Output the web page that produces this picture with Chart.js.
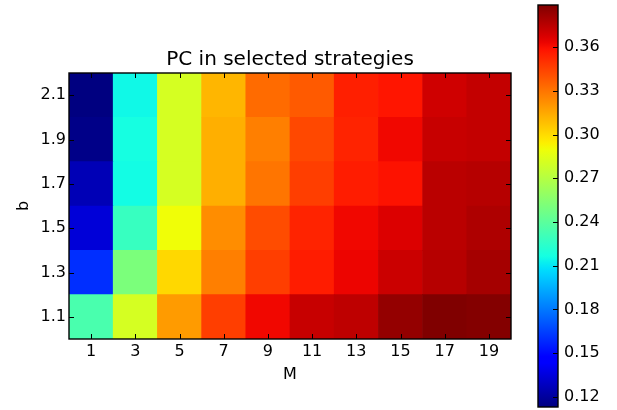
<!DOCTYPE html>
<html>
<head>
<meta charset="utf-8">
<script src="https://cdn.jsdelivr.net/npm/chart.js@4/dist/chart.umd.min.js"></script>
<style>
  html, body { margin: 0; padding: 0; background: #fff; }
  #wrap { position: relative; width: 617px; height: 410px; }
  #main { position: absolute; left: 0; top: 0; }
  #cbar { position: absolute; left: 530px; top: 0; }
</style>
</head>
<body>
<div id="wrap">
  <canvas id="main" width="617" height="410"></canvas>
  <canvas id="cbar" width="87" height="410"></canvas>
</div>
<script>
// ---- data ----
const mLabels = ['1', '3', '5', '7', '9', '11', '13', '15', '17', '19'];
const bValues = [1.1, 1.3, 1.5, 1.7, 1.9, 2.1];
const pc_b11 = [0.234, 0.281, 0.319, 0.346, 0.362, 0.372, 0.374, 0.384, 0.389, 0.388];
const pc_b13 = [0.160, 0.251, 0.301, 0.327, 0.346, 0.356, 0.363, 0.371, 0.376, 0.380];
const pc_b15 = [0.134, 0.228, 0.290, 0.323, 0.342, 0.354, 0.362, 0.367, 0.375, 0.378];
const pc_b17 = [0.126, 0.216, 0.281, 0.313, 0.330, 0.346, 0.356, 0.359, 0.375, 0.376];
const pc_b19 = [0.115, 0.217, 0.281, 0.313, 0.327, 0.343, 0.354, 0.362, 0.372, 0.373];
const pc_b21 = [0.113, 0.215, 0.281, 0.311, 0.333, 0.338, 0.355, 0.358, 0.370, 0.373];
const colorbarTicks = [0.12, 0.15, 0.18, 0.21, 0.24, 0.27, 0.30, 0.33, 0.36];
const colorMin = 0.113;
const colorMax = 0.389;
const chartTitle = 'PC in selected strategies';
const xTitle = 'M';
const yTitle = 'b';

// ---- jet colormap (matplotlib segment data) ----
const jetR = [[0, 0], [0.35, 0], [0.66, 1], [0.89, 1], [1, 0.5]];
const jetG = [[0, 0], [0.125, 0], [0.375, 1], [0.64, 1], [0.91, 0], [1, 0]];
const jetB = [[0, 0.5], [0.11, 1], [0.34, 1], [0.65, 0], [1, 0]];
function seg(s, t) {
  for (let i = 1; i < s.length; i++) {
    if (t <= s[i][0]) {
      const [x0, y0] = s[i - 1], [x1, y1] = s[i];
      return y0 + (y1 - y0) * (t - x0) / (x1 - x0);
    }
  }
  return s[s.length - 1][1];
}
function jetT(t) {
  t = Math.max(0, Math.min(1, t));
  const r = Math.round(255 * seg(jetR, t));
  const g = Math.round(255 * seg(jetG, t));
  const b = Math.round(255 * seg(jetB, t));
  return `rgb(${r},${g},${b})`;
}
function jet(v) { return jetT((v - colorMin) / (colorMax - colorMin)); }

const FONT = "'DejaVu Sans', 'Liberation Sans', sans-serif";
const rows = [pc_b11, pc_b13, pc_b15, pc_b17, pc_b19, pc_b21];

function line(ctx, x0, y0, x1, y1) {
  ctx.beginPath(); ctx.moveTo(x0, y0); ctx.lineTo(x1, y1); ctx.stroke();
}

const mainFrame = {
  id: 'mainFrame',
  afterDatasetsDraw(chart) {
    const { ctx, chartArea: { left, right, top, bottom } } = chart;
    const xs = chart.scales.x, ys = chart.scales.y;
    ctx.save();
    ctx.strokeStyle = '#000';
    ctx.lineWidth = 1;
    xs.ticks.forEach((t, i) => {
      const px = Math.round(xs.getPixelForTick(i)) + 0.5;
      line(ctx, px, bottom, px, bottom - 5);
      line(ctx, px, top, px, top + 5);
    });
    ys.ticks.forEach((t, i) => {
      const py = Math.round(ys.getPixelForTick(i)) + 0.5;
      line(ctx, left, py, left + 5, py);
      line(ctx, right, py, right - 5, py);
    });
    ctx.lineWidth = 1.4;
    ctx.strokeRect(left, top, right - left, bottom - top);
    ctx.restore();
  }
};

new Chart(document.getElementById('main'), {
  type: 'bar',
  data: {
    labels: mLabels,
    datasets: bValues.map((b, i) => ({
      label: 'b = ' + b,
      data: mLabels.map(() => [b - 0.1, b + 0.1]),
      backgroundColor: rows[i].map(v => jet(v)),
      borderWidth: 0,
      barPercentage: 1,
      categoryPercentage: 1,
      grouped: false
    }))
  },
  options: {
    responsive: false,
    animation: false,
    events: [],
    layout: { padding: { left: 0, top: 0, right: 106, bottom: 0 } },
    plugins: {
      legend: { display: false },
      tooltip: { enabled: false },
      title: {
        display: true,
        text: chartTitle,
        fullSize: false,
        color: '#000',
        font: { family: FONT, size: 20, weight: 'normal', lineHeight: 1.2 },
        padding: { top: 47.5, bottom: 1.5 }
      }
    },
    scales: {
      x: {
        type: 'category',
        offset: true,
        grid: { display: false, drawTicks: false },
        border: { display: false },
        ticks: { color: '#000', font: { family: FONT, size: 16 }, padding: 3, maxRotation: 0 },
        title: { display: true, text: xTitle, color: '#000', font: { family: FONT, size: 16, lineHeight: 1.2 }, padding: { top: 0, bottom: 25.4 } },
        afterFit(scale) { scale.height = 71; }
      },
      y: {
        type: 'linear',
        min: 1.0,
        max: 2.2,
        grid: { display: false, drawTicks: false },
        border: { display: false },
        afterBuildTicks(scale) { scale.ticks = bValues.map(v => ({ value: v })); },
        ticks: { color: '#000', font: { family: FONT, size: 16 }, padding: 3, callback: v => Number(v).toFixed(1) },
        title: { display: true, text: yTitle, color: '#000', font: { family: FONT, size: 16, lineHeight: 1.2 }, padding: { top: 13.8, bottom: 0 } },
        afterFit(scale) { scale.width = 69; }
      }
    }
  },
  plugins: [mainFrame]
});

// ---- colorbar ----
const cbarFrame = {
  id: 'cbarFrame',
  afterDatasetsDraw(chart) {
    const { ctx, chartArea: { left, right, top, bottom } } = chart;
    const ys = chart.scales.y;
    ctx.save();
    ctx.strokeStyle = '#000';
    ctx.lineWidth = 1;
    ys.ticks.forEach((t, i) => {
      const py = Math.round(ys.getPixelForTick(i)) + 0.5;
      line(ctx, right, py, right - 5, py);
    });
    ctx.lineWidth = 1.4;
    ctx.strokeRect(left, top, right - left, bottom - top);
    ctx.restore();
  }
};

new Chart(document.getElementById('cbar'), {
  type: 'bar',
  data: {
    labels: [''],
    datasets: [{
      data: [[colorMin, colorMax]],
      borderWidth: 0,
      barPercentage: 1,
      categoryPercentage: 1,
      backgroundColor(context) {
        const chart = context.chart;
        const ys = chart.scales && chart.scales.y;
        if (!chart.chartArea || !ys) return 'rgba(0,0,0,0)';
        const y0 = ys.getPixelForValue(colorMin), y1 = ys.getPixelForValue(colorMax);
        const g = chart.ctx.createLinearGradient(0, y0, 0, y1);
        const n = 64;
        for (let i = 0; i <= n; i++) g.addColorStop(i / n, jetT(i / n));
        return g;
      }
    }]
  },
  options: {
    responsive: false,
    animation: false,
    events: [],
    layout: { padding: { left: 8, top: 5, right: 0, bottom: 3 } },
    plugins: { legend: { display: false }, tooltip: { enabled: false }, title: { display: false } },
    scales: {
      x: { display: false, offset: true },
      y: {
        type: 'linear',
        position: 'right',
        min: colorMin,
        max: colorMax,
        grid: { display: false, drawTicks: false },
        border: { display: false },
        afterBuildTicks(scale) { scale.ticks = colorbarTicks.map(v => ({ value: v })); },
        ticks: { color: '#000', font: { family: FONT, size: 16 }, padding: 6, callback: v => Number(v).toFixed(2) },
        afterFit(scale) { scale.width = 59; scale.paddingTop = 0; scale.paddingBottom = 0; }
      }
    }
  },
  plugins: [cbarFrame]
});
</script>
</body>
</html>
